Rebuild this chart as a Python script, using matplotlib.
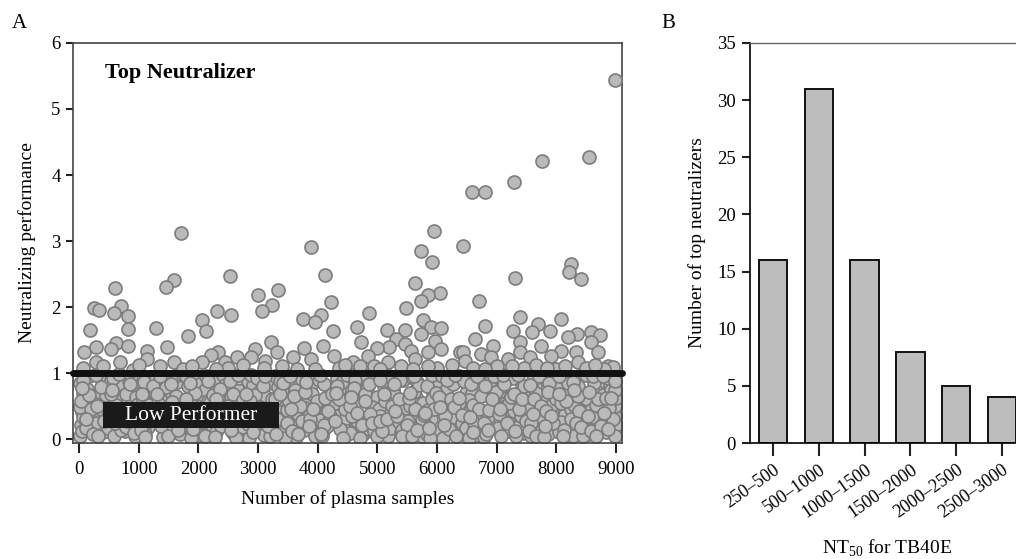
import matplotlib
matplotlib.use("Agg")
import matplotlib.pyplot as plt
from matplotlib.patches import Rectangle

plt.rcParams["font.family"] = ["Liberation Serif", "DejaVu Serif"]
plt.rcParams["mathtext.fontset"] = "custom"
plt.rcParams["mathtext.rm"] = "Liberation Serif"

# Panel A: top neutralizers (performance above 1)
top_x = [8985, 8548, 7760, 7290, 6587, 6805, 5950, 1709, 6436, 3888, 5732, 5916,
         8246, 8212, 2531, 4130, 8413, 7308, 1592, 1458, 603, 5631, 3335, 6050,
         3000, 5849, 6704, 5732, 4224, 3234, 704, 251, 5480, 335, 3067, 2313,
         586, 4860, 2548, 4056, 821, 7392, 3754, 8078, 2062, 5765, 3955, 7693,
         6805, 4659, 5899, 1290, 6067, 821, 184, 2129, 4257, 5162, 5464, 7274,
         7593, 7894, 8581, 5732, 8346, 8732, 1827, 8195, 5313, 6637, 4726, 3218,
         7392, 5966, 8581, 620, 5464, 821, 4089, 6939, 7743, 285, 1475, 5195,
         4994, 3771, 536, 2950, 6067, 1140, 5564, 8078, 84, 2330, 3318, 5849,
         6386, 6436, 7392, 8330, 8698, 6738, 2212, 4844, 4274, 7911, 2648, 2883,
         3586, 6905, 7559, 1140, 3888, 5631, 7190, 285, 687, 1592, 2062, 2447,
         4592, 5179, 8363, 3117, 6470, 8866, 8950,
         60, 400, 900, 1350, 1750, 2500, 2750, 3400, 3650, 4350, 4450, 4950,
         5050, 5400, 6000, 6250, 6600, 7000, 7450, 7650, 8000, 8150, 8500, 8800,
         1000, 1900, 2300, 3100, 3950, 4700, 5600, 5850, 6800, 7250, 7850, 8650]
top_y = [5.44, 4.27, 4.21, 3.89, 3.74, 3.74, 3.15, 3.12, 2.92, 2.91, 2.85, 2.68,
         2.65, 2.53, 2.47, 2.48, 2.42, 2.44, 2.41, 2.30, 2.29, 2.36, 2.26, 2.22,
         2.18, 2.18, 2.09, 2.09, 2.08, 2.03, 2.02, 1.98, 1.98, 1.95, 1.94, 1.94,
         1.91, 1.91, 1.88, 1.88, 1.86, 1.85, 1.82, 1.82, 1.80, 1.80, 1.77, 1.74,
         1.71, 1.70, 1.70, 1.68, 1.68, 1.67, 1.65, 1.64, 1.64, 1.65, 1.65, 1.64,
         1.62, 1.64, 1.62, 1.59, 1.59, 1.58, 1.56, 1.55, 1.52, 1.52, 1.47, 1.47,
         1.47, 1.48, 1.47, 1.45, 1.44, 1.41, 1.41, 1.41, 1.41, 1.39, 1.39, 1.39,
         1.38, 1.38, 1.36, 1.36, 1.36, 1.33, 1.33, 1.33, 1.32, 1.32, 1.32, 1.32,
         1.32, 1.32, 1.32, 1.32, 1.32, 1.29, 1.27, 1.26, 1.26, 1.26, 1.24, 1.24,
         1.24, 1.24, 1.24, 1.21, 1.21, 1.21, 1.21, 1.17, 1.17, 1.17, 1.17, 1.17,
         1.17, 1.17, 1.17, 1.18, 1.18, 1.11, 1.09,
         1.08, 1.10, 1.05, 1.10, 1.06, 1.08, 1.12, 1.10, 1.06, 1.08, 1.12, 1.10,
         1.06, 1.10, 1.08, 1.12, 1.07, 1.10, 1.08, 1.12, 1.06, 1.10, 1.08, 1.06,
         1.12, 1.10, 1.06, 1.08, 1.06, 1.10, 1.06, 1.10, 1.06, 1.10, 1.08, 1.12]

# Panel A: low performers (dense cloud below 1), estimated
low_x = [10, 30, 55, 80, 20, 45, 70, 100, 130, 160, 190, 15, 60,
         270, 395, 330, 460, 290, 430, 360, 480, 345,
         515, 640, 580, 710, 535, 690, 600, 745, 660,
         770, 890, 835, 960, 790, 930, 860, 990, 905,
         1020, 1150, 1075, 1210, 1040, 1180, 1110, 1235, 1090,
         1265, 1390, 1330, 1460, 1285, 1430, 1355, 1480, 1405,
         1520, 1645, 1575, 1705, 1540, 1685, 1610, 1740, 1660,
         1765, 1895, 1830, 1955, 1790, 1925, 1860, 1985, 1905,
         2015, 2140, 2080, 2210, 2035, 2185, 2105, 2240, 2160,
         2270, 2390, 2325, 2455, 2290, 2430, 2360, 2485, 2410,
         2520, 2645, 2585, 2710, 2540, 2680, 2605, 2745, 2665,
         2765, 2890, 2830, 2960, 2785, 2935, 2855, 2990, 2910,
         3020, 3150, 3080, 3205, 3045, 3180, 3110, 3235, 3095,
         3265, 3385, 3330, 3460, 3290, 3425, 3355, 3485, 3405,
         3520, 3640, 3580, 3710, 3540, 3690, 3605, 3740, 3665,
         3770, 3895, 3830, 3960, 3790, 3930, 3855, 3985, 3910,
         4015, 4145, 4080, 4210, 4035, 4180, 4105, 4240, 4160,
         4270, 4395, 4325, 4455, 4290, 4430, 4360, 4480, 4410,
         4520, 4640, 4585, 4710, 4545, 4685, 4600, 4745, 4660,
         4765, 4890, 4830, 4955, 4785, 4930, 4860, 4990, 4905,
         5020, 5145, 5080, 5210, 5045, 5180, 5105, 5235, 5160,
         5265, 5390, 5330, 5455, 5285, 5430, 5355, 5485, 5405,
         5520, 5640, 5580, 5705, 5540, 5690, 5605, 5740, 5665,
         5770, 5895, 5830, 5960, 5790, 5925, 5855, 5985, 5910,
         6015, 6140, 6080, 6210, 6035, 6185, 6105, 6240, 6160,
         6270, 6390, 6325, 6455, 6290, 6430, 6360, 6485, 6410,
         6520, 6645, 6580, 6710, 6540, 6680, 6605, 6745, 6665,
         6765, 6890, 6830, 6960, 6785, 6935, 6855, 6990, 6910,
         7020, 7150, 7080, 7205, 7045, 7180, 7110, 7235, 7095,
         7265, 7385, 7330, 7460, 7290, 7425, 7355, 7485, 7405,
         7520, 7640, 7580, 7710, 7540, 7690, 7605, 7740, 7665,
         7770, 7895, 7830, 7960, 7790, 7930, 7855, 7985, 7910,
         8015, 8145, 8080, 8210, 8035, 8180, 8105, 8240, 8160,
         8270, 8395, 8325, 8455, 8290, 8430, 8360, 8480, 8410,
         8520, 8640, 8580, 8710, 8545, 8685, 8600, 8745, 8660,
         8765, 8890, 8830, 8955, 8785, 8930, 8860, 8970, 8910,
         8985, 8990, 8980, 8985, 8992, 8982, 8988,
         125, 75, 200, 35, 240, 110, 165, 50,
         375, 325, 450, 285, 490, 360, 415, 300,
         625, 575, 700, 535, 740, 610, 665, 550,
         875, 825, 950, 785, 990, 860, 915, 800,
         1125, 1075, 1200, 1035, 1240, 1110, 1165, 1050,
         1375, 1325, 1450, 1285, 1490, 1360, 1415, 1300,
         1625, 1575, 1700, 1535, 1740, 1610, 1665, 1550,
         1875, 1825, 1950, 1785, 1990, 1860, 1915, 1800,
         2125, 2075, 2200, 2035, 2240, 2110, 2165, 2050,
         2375, 2325, 2450, 2285, 2490, 2360, 2415, 2300,
         2625, 2575, 2700, 2535, 2740, 2610, 2665, 2550,
         2875, 2825, 2950, 2785, 2990, 2860, 2915, 2800,
         3125, 3075, 3200, 3035, 3240, 3110, 3165, 3050,
         3375, 3325, 3450, 3285, 3490, 3360, 3415, 3300,
         3625, 3575, 3700, 3535, 3740, 3610, 3665, 3550,
         3875, 3825, 3950, 3785, 3990, 3860, 3915, 3800,
         4125, 4075, 4200, 4035, 4240, 4110, 4165, 4050,
         4375, 4325, 4450, 4285, 4490, 4360, 4415, 4300,
         4625, 4575, 4700, 4535, 4740, 4610, 4665, 4550,
         4875, 4825, 4950, 4785, 4990, 4860, 4915, 4800,
         5125, 5075, 5200, 5035, 5240, 5110, 5165, 5050,
         5375, 5325, 5450, 5285, 5490, 5360, 5415, 5300,
         5625, 5575, 5700, 5535, 5740, 5610, 5665, 5550,
         5875, 5825, 5950, 5785, 5990, 5860, 5915, 5800,
         6125, 6075, 6200, 6035, 6240, 6110, 6165, 6050,
         6375, 6325, 6450, 6285, 6490, 6360, 6415, 6300,
         6625, 6575, 6700, 6535, 6740, 6610, 6665, 6550,
         6875, 6825, 6950, 6785, 6990, 6860, 6915, 6800,
         7125, 7075, 7200, 7035, 7240, 7110, 7165, 7050,
         7375, 7325, 7450, 7285, 7490, 7360, 7415, 7300,
         7625, 7575, 7700, 7535, 7740, 7610, 7665, 7550,
         7875, 7825, 7950, 7785, 7990, 7860, 7915, 7800,
         8125, 8075, 8200, 8035, 8240, 8110, 8165, 8050,
         8375, 8325, 8450, 8285, 8490, 8360, 8415, 8300,
         8625, 8575, 8700, 8535, 8740, 8610, 8665, 8550,
         8875, 8825, 8950, 8785, 8975, 8860, 8915, 8800]
low_y = [0.05, 0.22, 0.41, 0.63, 0.85, 0.12, 0.33, 0.55, 0.76, 0.95, 0.28, 0.48, 0.70,
         0.62, 0.10, 0.38, 0.81, 0.25, 0.53, 0.92, 0.17, 0.71,
         0.30, 0.74, 0.05, 0.47, 0.90, 0.20, 0.61, 0.36, 0.83,
         0.12, 0.58, 0.88, 0.33, 0.69, 0.04, 0.45, 0.77, 0.24,
         0.51, 0.19, 0.73, 0.94, 0.37, 0.63, 0.08, 0.29, 0.86,
         0.70, 0.27, 0.49, 0.13, 0.91, 0.39, 0.60, 0.82, 0.03,
         0.34, 0.87, 0.15, 0.56, 0.72, 0.07, 0.95, 0.44, 0.26,
         0.59, 0.11, 0.80, 0.40, 0.22, 0.68, 0.31, 0.90, 0.50,
         0.06, 0.46, 0.66, 0.21, 0.84, 0.35, 0.75, 0.14, 0.57,
         0.89, 0.32, 0.52, 0.70, 0.10, 0.43, 0.23, 0.62, 0.97,
         0.25, 0.78, 0.09, 0.48, 0.64, 0.92, 0.37, 0.18, 0.55,
         0.43, 0.60, 0.88, 0.13, 0.30, 0.74, 0.02, 0.51, 0.82,
         0.71, 0.16, 0.40, 0.93, 0.55, 0.27, 0.65, 0.85, 0.06,
         0.20, 0.50, 0.79, 0.35, 0.96, 0.11, 0.61, 0.44, 0.73,
         0.58, 0.03, 0.30, 0.67, 0.86, 0.46, 0.19, 0.90, 0.38,
         0.14, 0.82, 0.63, 0.24, 0.47, 0.95, 0.35, 0.07, 0.69,
         0.90, 0.41, 0.12, 0.76, 0.29, 0.58, 0.83, 0.50, 0.20,
         0.37, 0.66, 0.93, 0.05, 0.54, 0.22, 0.74, 0.32, 0.87,
         0.62, 0.17, 0.45, 0.84, 0.09, 0.71, 0.53, 0.96, 0.28,
         0.08, 0.53, 0.77, 0.31, 0.92, 0.42, 0.15, 0.64, 0.49,
         0.46, 0.88, 0.23, 0.60, 0.35, 0.04, 0.81, 0.16, 0.70,
         0.75, 0.10, 0.57, 0.39, 0.68, 0.90, 0.26, 0.47, 0.13,
         0.27, 0.64, 0.94, 0.18, 0.50, 0.36, 0.72, 0.05, 0.86,
         0.55, 0.31, 0.07, 0.80, 0.21, 0.67, 0.44, 0.91, 0.60,
         0.11, 0.73, 0.49, 0.28, 0.87, 0.56, 0.02, 0.40, 0.78,
         0.83, 0.42, 0.19, 0.62, 0.33, 0.08, 0.95, 0.70, 0.24,
         0.39, 0.97, 0.70, 0.14, 0.59, 0.29, 0.52, 0.82, 0.06,
         0.66, 0.20, 0.85, 0.45, 0.03, 0.76, 0.34, 0.57, 0.90,
         0.17, 0.60, 0.37, 0.92, 0.72, 0.12, 0.48, 0.27, 0.81,
         0.93, 0.25, 0.65, 0.09, 0.43, 0.79, 0.18, 0.54, 0.35,
         0.48, 0.81, 0.04, 0.34, 0.63, 0.22, 0.89, 0.13, 0.70,
         0.32, 0.13, 0.58, 0.76, 0.95, 0.41, 0.08, 0.66, 0.50,
         0.77, 0.38, 0.26, 0.55, 0.11, 0.90, 0.68, 0.45, 0.02,
         0.05, 0.70, 0.90, 0.30, 0.52, 0.16, 0.80, 0.61, 0.39,
         0.60, 0.23, 0.44, 0.87, 0.07, 0.72, 0.33, 0.96, 0.51,
         0.21, 0.84, 0.10, 0.53, 0.67, 0.36, 0.93, 0.18, 0.74,
         0.10, 0.22, 0.35, 0.50, 0.62, 0.75, 0.88,
         0.16, 0.90, 0.45, 0.58, 0.08, 0.30, 0.67, 0.78,
         0.45, 0.05, 0.66, 0.97, 0.35, 0.79, 0.27, 0.50,
         0.52, 0.93, 0.13, 0.68, 0.42, 0.25, 0.98, 0.75,
         0.95, 0.38, 0.64, 0.19, 0.53, 0.83, 0.09, 0.28,
         0.25, 0.60, 0.41, 0.13, 0.80, 0.03, 0.52, 0.69,
         0.20, 0.55, 0.79, 0.33, 0.05, 0.96, 0.45, 0.68,
         0.65, 0.45, 0.24, 0.83, 0.97, 0.35, 0.13, 0.56,
         0.02, 0.49, 0.70, 0.95, 0.30, 0.85, 0.15, 0.60,
         0.95, 0.26, 0.56, 0.45, 0.66, 0.04, 0.88, 0.27,
         0.20, 0.61, 0.82, 0.03, 0.50, 0.76, 0.36, 0.60,
         0.02, 0.68, 0.30, 0.88, 0.59, 0.44, 0.97, 0.14,
         0.97, 0.23, 0.66, 0.38, 0.92, 0.57, 0.10, 0.68,
         0.32, 0.81, 0.04, 0.48, 0.60, 0.96, 0.20, 0.40,
         0.88, 0.30, 0.02, 0.60, 0.25, 0.68, 0.85, 0.08,
         0.74, 0.12, 0.50, 0.95, 0.27, 0.65, 0.07, 0.46,
         0.30, 0.94, 0.05, 0.72, 0.58, 0.20, 0.45, 0.87,
         0.62, 0.04, 0.35, 0.97, 0.68, 0.22, 0.43, 0.08,
         0.15, 0.80, 0.45, 0.28, 0.97, 0.60, 0.02, 0.70,
         0.90, 0.35, 0.02, 0.50, 0.22, 0.78, 0.40, 0.63,
         0.38, 0.96, 0.12, 0.68, 0.04, 0.84, 0.25, 0.58,
         0.58, 0.12, 0.95, 0.28, 0.50, 0.68, 0.30, 0.90,
         0.90, 0.35, 0.02, 0.84, 0.22, 0.60, 0.05, 0.43,
         0.45, 0.05, 0.82, 0.62, 0.30, 0.95, 0.14, 0.70,
         0.02, 0.80, 0.45, 0.36, 0.70, 0.16, 0.97, 0.40,
         0.35, 0.95, 0.15, 0.64, 0.60, 0.22, 0.90, 0.48,
         0.55, 0.04, 0.88, 0.48, 0.16, 0.62, 0.36, 0.97,
         0.24, 0.84, 0.45, 0.02, 0.65, 0.10, 0.95, 0.34,
         0.44, 0.08, 0.95, 0.25, 0.72, 0.14, 0.60, 0.80,
         0.84, 0.04, 0.55, 0.38, 0.64, 0.97, 0.25, 0.46,
         0.45, 0.05, 0.80, 0.68, 0.28, 0.97, 0.60, 0.12,
         0.60, 0.25, 0.95, 0.12, 0.50, 0.38, 0.04, 0.82,
         0.85, 0.42, 0.25, 0.03, 0.60, 0.72, 0.35, 0.20,
         0.14, 0.55, 0.85, 0.95, 0.30, 0.05, 0.58, 0.68,
         0.43, 0.25, 0.05, 0.86, 0.97, 0.65, 0.18, 0.75,
         0.85, 0.12, 0.60, 0.35, 0.20, 0.95, 0.04, 0.72,
         0.47, 0.62, 0.30, 0.95, 0.05, 0.15, 0.62, 0.40]
threshold = 1.0

# Panel B: counts of top neutralizers per NT50 range
nt50_bins = ["250\u2013500", "500\u20131000", "1000\u20131500",
             "1500\u20132000", "2000\u20132500", "2500\u20133000"]
top_counts = [16, 31, 16, 8, 5, 4]

fig = plt.figure(figsize=(10.16, 5.59), dpi=100)
ax1 = fig.add_axes([0.0719, 0.2075, 0.5404, 0.7156])
ax2 = fig.add_axes([0.7382, 0.2075, 0.2707, 0.7156])

face = "#bababa"
edge = "#7c7c7c"
ax1.scatter(low_x, low_y, s=88, facecolor=face, edgecolor=edge, linewidth=1.2, zorder=2)
ax1.scatter(top_x, top_y, s=88, facecolor=face, edgecolor=edge, linewidth=1.2, zorder=3)
ax1.axhline(threshold, color="#111111", linewidth=5, solid_capstyle="round",
            clip_on=False, zorder=4)

ax1.set_xlim(-100, 9100)
ax1.set_ylim(-0.06, 6)
ax1.set_xticks(range(0, 9001, 1000))
ax1.set_yticks(range(0, 7))
ax1.tick_params(axis="both", direction="out", labelsize=13.5, width=1.5, color="#222222")
ax1.tick_params(axis="x", length=7, pad=6)
ax1.tick_params(axis="y", length=5, pad=4)
for sp in ax1.spines.values():
    sp.set_linewidth(1.2)
    sp.set_color("#444444")
ax1.set_xlabel("Number of plasma samples", fontsize=14, labelpad=9)
ax1.set_ylabel("Neutralizing performance", fontsize=14, labelpad=11)

ax1.text(0.058, 0.925, "Top Neutralizer", transform=ax1.transAxes, fontsize=16,
         fontweight="bold", va="center", ha="left", zorder=6)
ax1.add_patch(Rectangle((0.0546, 0.0375), 0.3206, 0.065, transform=ax1.transAxes,
                        facecolor="#1a1a1a", edgecolor="none", zorder=5))
ax1.text(0.2149, 0.07, "Low Performer", transform=ax1.transAxes, fontsize=15.5,
         color="white", va="center", ha="center", zorder=6)

# Panel B bars
pos = list(range(len(nt50_bins)))
ax2.bar(pos, top_counts, width=0.62, color="#bdbdbd", edgecolor="#111111",
        linewidth=1.4, zorder=2)
ax2.set_xlim(-0.5, 5.5)
ax2.set_ylim(0, 35)
ax2.set_yticks(range(0, 36, 5))
ax2.set_xticks(pos)
ax2.set_xticklabels(nt50_bins, rotation=35, ha="right", rotation_mode="anchor")
ax2.tick_params(axis="both", direction="out", labelsize=13.5, width=1.5, color="#222222")
ax2.tick_params(axis="x", length=9, pad=4, labelsize=13)
ax2.tick_params(axis="y", length=6, pad=4)
ax2.spines["right"].set_visible(False)
ax2.spines["top"].set_color("#666666")
ax2.spines["top"].set_linewidth(1.0)
ax2.spines["left"].set_linewidth(1.2)
ax2.spines["bottom"].set_linewidth(1.2)
ax2.set_ylabel("Number of top neutralizers", fontsize=14, labelpad=8)
ax2.set_xlabel("NT$_{50}$ for TB40E", fontsize=14, labelpad=12)

fig.text(0.012, 0.958, "A", fontsize=15, va="center", ha="left")
fig.text(0.651, 0.958, "B", fontsize=15, va="center", ha="left")

fig.savefig("out.png", dpi=100)
